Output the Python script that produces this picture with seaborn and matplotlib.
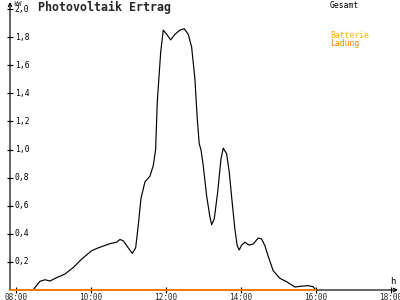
import numpy as np
import pandas as pd
import matplotlib
matplotlib.use("Agg")
import matplotlib.pyplot as plt
import seaborn as sns

# Time in hours, output in kW (Gesamt)
times = [8.453, 8.64, 8.773, 8.907, 9.085, 9.307, 9.528, 9.752, 10.019, 10.195,
         10.507, 10.685, 10.773, 10.861, 10.995, 11.101, 11.192, 11.261, 11.333,
         11.44, 11.573, 11.661, 11.725, 11.768, 11.859, 11.928, 12.019, 12.125,
         12.24, 12.373, 12.488, 12.595, 12.685, 12.773, 12.835, 12.888, 12.933,
         12.995, 13.085, 13.173, 13.219, 13.288, 13.379, 13.467, 13.528, 13.619,
         13.688, 13.768, 13.84, 13.901, 13.955, 14.019, 14.107, 14.213, 14.328,
         14.461, 14.552, 14.64, 14.728, 14.861, 15.04, 15.219, 15.44, 15.573,
         15.795, 15.928, 15.992]
gesamt = [0.0, 0.062, 0.073, 0.064, 0.088, 0.114, 0.16, 0.22, 0.28, 0.30,
          0.33, 0.34, 0.36, 0.35, 0.30, 0.26, 0.30, 0.46, 0.65,
          0.77, 0.81, 0.885, 1.0, 1.336, 1.69, 1.85, 1.82, 1.78,
          1.82, 1.85, 1.86, 1.82, 1.73, 1.50, 1.22, 1.04, 1.0,
          0.885, 0.67, 0.52, 0.465, 0.505, 0.695, 0.93, 1.01, 0.97,
          0.84, 0.62, 0.43, 0.315, 0.285, 0.32, 0.34, 0.32, 0.327,
          0.37, 0.363, 0.315, 0.24, 0.137, 0.083, 0.059, 0.021, 0.026,
          0.031, 0.023, 0.0]

ladung_t = [7.84, 16.0]
ladung_v = [0.0, 0.0]

yticks = [0.2, 0.4, 0.6, 0.8, 1.0, 1.2, 1.4, 1.6, 1.8, 2.0]
ylabels = ["0,2", "0,4", "0,6", "0,8", "1,0", "1,2", "1,4", "1,6", "1,8", "2,0"]
xticks = [8, 10, 12, 14, 16, 18]
xlabels = ["08:00", "10:00", "12:00", "14:00", "16:00", "18:00"]

sns.set_style("white")
plt.rcParams['font.family'] = ['DejaVu Sans Mono', 'DejaVu Sans']

fig = plt.figure(figsize=(4, 3), dpi=100)
ax = fig.add_axes([10/400, 10/300, 388/400, 288/300])
ax.set_xlim(7.84, 18.19)
ax.set_ylim(0, 2.05)

df = pd.DataFrame({"t": times, "v": gesamt})
sns.lineplot(data=df, x="t", y="v", ax=ax, color="black", linewidth=0.85,
             sort=False, estimator=None)
ax.plot(ladung_t, ladung_v, color="#ff8000", linewidth=1.3, zorder=5,
        clip_on=False)

for s in ["top", "right", "left", "bottom"]:
    ax.spines[s].set_visible(False)
ax.annotate("", xy=(0, 1.0), xytext=(0, 0), xycoords="axes fraction",
            arrowprops=dict(arrowstyle="->", color="black", lw=0.85,
                            shrinkA=0, shrinkB=0, mutation_scale=6))
ax.annotate("", xy=(1.0, 0), xytext=(0, 0), xycoords="axes fraction",
            arrowprops=dict(arrowstyle="->", color="black", lw=0.85,
                            shrinkA=0, shrinkB=0, mutation_scale=6))

ax.set_xticks(xticks)
ax.set_xticklabels(xlabels)
ax.set_yticks(yticks)
ax.set_yticklabels([])
ax.tick_params(axis="both", direction="inout", length=4.5, width=0.85,
               color="black", labelsize=5.6, pad=0)
ax.tick_params(left=True, bottom=True)
ax.set_xlabel("")
ax.set_ylabel("")
ax.grid(False)

for v, lab in zip(yticks, ylabels):
    ax.annotate(lab, xy=(0.0, v), xycoords=ax.get_yaxis_transform(),
                xytext=(3.5, 0), textcoords="offset points",
                ha="left", va="center", fontsize=5.8, color="black")

ax.text(18.05, 0.025, "h", fontsize=6.5, ha="center", va="bottom", color="black")
fig.text(13/400, 1 - 0.5/300, "kW", fontsize=5, ha="left", va="top")

fig.text(38/400, 1 - 1/300, "Photovoltaik Ertrag", fontsize=8.4,
         fontweight="bold", ha="left", va="top")
fig.text(330/400, 1 - 1/300, "Gesamt", fontsize=5.8, ha="left", va="top",
         color="black")
fig.text(330/400, 1 - 31/300, "Batterie", fontsize=5.8, ha="left", va="top",
         color="#ffb000")
fig.text(330/400, 1 - 39/300, "Ladung", fontsize=5.8, ha="left", va="top",
         color="#ff8000")

fig.savefig("out.png", dpi=100)
